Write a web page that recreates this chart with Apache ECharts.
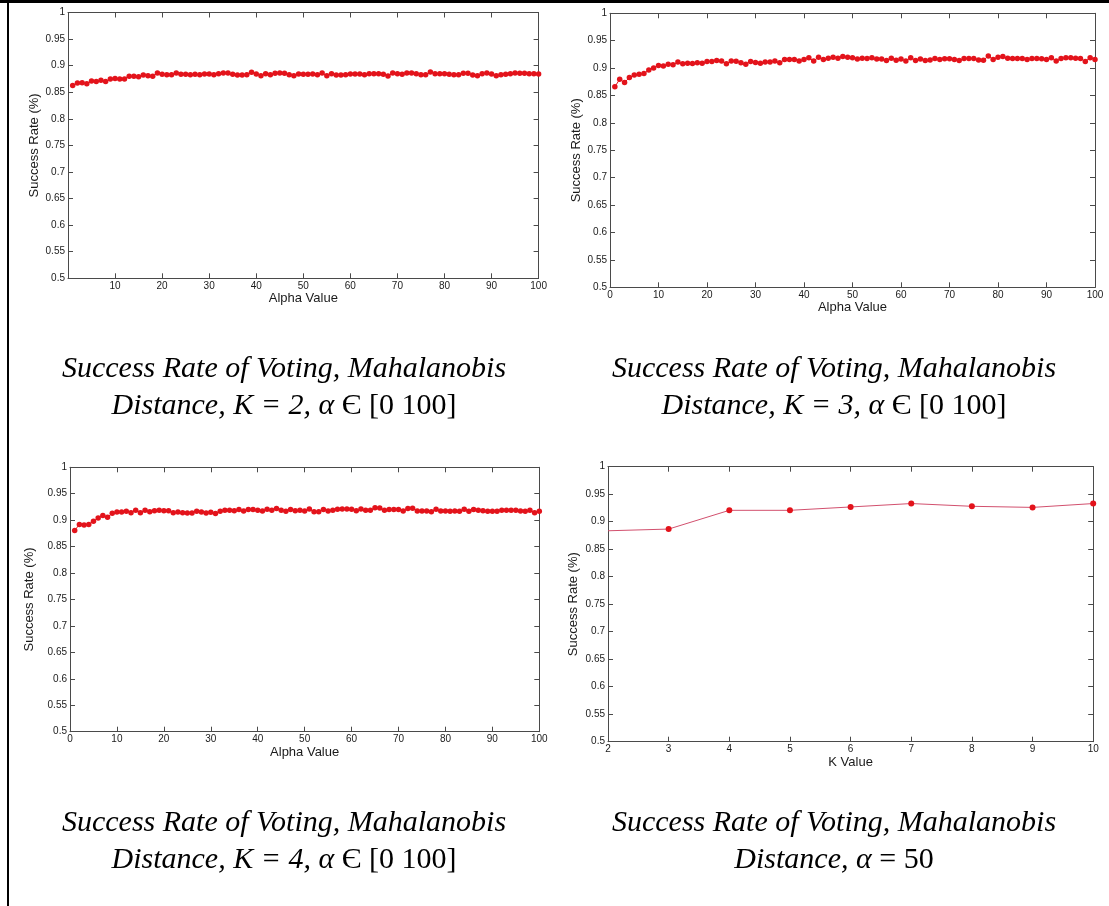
<!DOCTYPE html>
<html>
<head>
<meta charset="utf-8">
<title>Success Rate of Voting, Mahalanobis Distance</title>
<script src="https://cdn.jsdelivr.net/npm/echarts@6/dist/echarts.min.js"></script>
<style>
  html, body { margin: 0; padding: 0; background: #ffffff; }
  #chart { width: 1109px; height: 906px; }
</style>
</head>
<body>
<div id="chart"></div>
<script>
// Alpha values swept in the three alpha experiments
const alphaValues = [
  1, 2, 3, 4, 5, 6, 7, 8, 9, 10, 11, 12, 13, 14, 15, 16, 17, 18, 19, 20,
  21, 22, 23, 24, 25, 26, 27, 28, 29, 30, 31, 32, 33, 34, 35, 36, 37, 38, 39, 40,
  41, 42, 43, 44, 45, 46, 47, 48, 49, 50, 51, 52, 53, 54, 55, 56, 57, 58, 59, 60,
  61, 62, 63, 64, 65, 66, 67, 68, 69, 70, 71, 72, 73, 74, 75, 76, 77, 78, 79, 80,
  81, 82, 83, 84, 85, 86, 87, 88, 89, 90, 91, 92, 93, 94, 95, 96, 97, 98, 99, 100
];

// Success rate for K = 2, one value per alpha
const rateK2 = [
  0.8625, 0.8675, 0.868, 0.866, 0.871, 0.870, 0.8725, 0.870, 0.875, 0.876,
  0.875, 0.875, 0.880, 0.880, 0.879, 0.8825, 0.881, 0.880, 0.886, 0.884,
  0.883, 0.883, 0.886, 0.884, 0.8838, 0.883, 0.8838, 0.883, 0.8844, 0.8844,
  0.883, 0.885, 0.886, 0.886, 0.8838, 0.8825, 0.8825, 0.883, 0.8875, 0.8844,
  0.881, 0.885, 0.883, 0.8856, 0.886, 0.8856, 0.883, 0.881, 0.8844, 0.8838,
  0.8838, 0.8844, 0.883, 0.886, 0.881, 0.885, 0.8825, 0.8825, 0.883, 0.8844,
  0.8844, 0.8844, 0.883, 0.885, 0.885, 0.885, 0.8838, 0.8806, 0.886, 0.885,
  0.8838, 0.886, 0.886, 0.885, 0.883, 0.883, 0.888, 0.885, 0.885, 0.885,
  0.8838, 0.883, 0.883, 0.8856, 0.8856, 0.8825, 0.881, 0.885, 0.886, 0.8844,
  0.881, 0.883, 0.8838, 0.885, 0.886, 0.8856, 0.8856, 0.885, 0.885, 0.8844
];

// Success rate for K = 3, one value per alpha
const rateK3 = [
  0.866, 0.8795, 0.8735, 0.883, 0.8873, 0.889, 0.890, 0.8964, 0.900, 0.9048,
  0.904, 0.907, 0.906, 0.911, 0.908, 0.909, 0.9085, 0.9096, 0.909, 0.912,
  0.912, 0.914, 0.913, 0.908, 0.913, 0.9127, 0.9096, 0.907, 0.912, 0.910,
  0.909, 0.911, 0.911, 0.913, 0.9096, 0.9157, 0.9157, 0.9157, 0.913, 0.9157,
  0.919, 0.913, 0.920, 0.9157, 0.918, 0.920, 0.918, 0.921, 0.920, 0.919,
  0.9165, 0.918, 0.9175, 0.919, 0.9165, 0.9165, 0.914, 0.918, 0.9145, 0.9165,
  0.913, 0.919, 0.914, 0.9165, 0.914, 0.915, 0.9175, 0.9157, 0.917, 0.917,
  0.9157, 0.914, 0.9175, 0.9175, 0.9175, 0.915, 0.9145, 0.9219, 0.9157, 0.920,
  0.921, 0.918, 0.9175, 0.9175, 0.9175, 0.9157, 0.9175, 0.9175, 0.917, 0.9157,
  0.919, 0.913, 0.9175, 0.9187, 0.9187, 0.918, 0.9175, 0.912, 0.919, 0.9157
];

// Success rate for K = 4, one value per alpha
const rateK4 = [
  0.8806, 0.892, 0.891, 0.892, 0.898, 0.904, 0.909, 0.9056, 0.913, 0.9156,
  0.9156, 0.917, 0.914, 0.919, 0.914, 0.919, 0.916, 0.918, 0.919, 0.918,
  0.918, 0.914, 0.9156, 0.914, 0.9137, 0.9137, 0.917, 0.9156, 0.9137, 0.915,
  0.9125, 0.917, 0.9187, 0.9187, 0.918, 0.920, 0.9175, 0.920, 0.920, 0.919,
  0.9175, 0.9206, 0.9187, 0.9219, 0.919, 0.917, 0.920, 0.918, 0.919, 0.9175,
  0.921, 0.916, 0.916, 0.920, 0.9175, 0.919, 0.9206, 0.921, 0.921, 0.9206,
  0.918, 0.921, 0.919, 0.919, 0.9237, 0.923, 0.9187, 0.920, 0.920, 0.920,
  0.9175, 0.9219, 0.9225, 0.9175, 0.9175, 0.9175, 0.916, 0.9206, 0.9175, 0.9175,
  0.917, 0.9175, 0.917, 0.9206, 0.917, 0.920, 0.9187, 0.918, 0.917, 0.917,
  0.917, 0.919, 0.919, 0.919, 0.919, 0.9175, 0.917, 0.919, 0.914, 0.917
];

// K sweep at alpha = 50
const kValues = [2, 3, 4, 5, 6, 7, 8, 9, 10];
const rateAlpha50 = [0.8835, 0.8866, 0.9207, 0.9207, 0.9268, 0.933, 0.928, 0.926, 0.933];

// Caption text under each panel
const captionTitle = 'Success Rate of Voting, Mahalanobis';
const captionK2 = ['Distance, K = 2, ', 'α', ' Є [0 100]'];
const captionK3 = ['Distance, K = 3, ', 'α', ' Є [0 100]'];
const captionK4 = ['Distance, K = 4, ', 'α', ' Є [0 100]'];
const captionAlpha = ['Distance, ', 'α', ' = 50'];

const yAxisTitle = 'Success Rate (%)';
const alphaAxisTitle = 'Alpha Value';
const kAxisTitle = 'K Value';

// ---- layout & styling ----
const SANS = '"Liberation Sans", Arial, sans-serif';
const SERIF = '"Liberation Serif", "Times New Roman", serif';
const AXIS_COLOR = '#4a4a4a';
const TEXT_COLOR = '#1a1a1a';
const RED = '#e3131b';

const panels = [
  { grid: { left: 68, top: 12.5, width: 470.6, height: 265.8 }, xMin: 0, xMax: 100, xInt: 10, hideZero: true,
    xName: alphaAxisTitle, yGap: 27, xGap: 12, xs: alphaValues, ys: rateK2, size: 5.5, line: RED },
  { grid: { left: 610, top: 13.3, width: 485, height: 274 }, xMin: 0, xMax: 100, xInt: 10, hideZero: false,
    xName: alphaAxisTitle, yGap: 27, xGap: 14, xs: alphaValues, ys: rateK3, size: 5.5, line: RED },
  { grid: { left: 70, top: 467.3, width: 469.3, height: 264.4 }, xMin: 0, xMax: 100, xInt: 10, hideZero: false,
    xName: alphaAxisTitle, yGap: 34, xGap: 14, xs: alphaValues, ys: rateK4, size: 5.5, line: RED },
  { grid: { left: 608, top: 466.7, width: 485.2, height: 275 }, xMin: 2, xMax: 10, xInt: 1, hideZero: false,
    xName: kAxisTitle, yGap: 28, xGap: 14, xs: kValues, ys: rateAlpha50, size: 6, line: '#d2506e', noFirstSymbol: true }
];

const grids = [], xAxes = [], yAxes = [], series = [];

panels.forEach((p, i) => {
  grids.push(Object.assign({ containLabel: false }, p.grid));

  const baseX = {
    type: 'value', gridIndex: i, min: p.xMin, max: p.xMax, interval: p.xInt,
    axisLine: { show: true, onZero: false, lineStyle: { color: AXIS_COLOR, width: 1 } },
    axisTick: { show: true, inside: true, length: 5, lineStyle: { color: AXIS_COLOR } },
    splitLine: { show: false }
  };
  // bottom axis with labels
  xAxes.push(Object.assign({}, baseX, {
    position: 'bottom',
    name: p.xName, nameLocation: 'middle', nameGap: p.xGap,
    nameTextStyle: { fontFamily: SANS, fontSize: 13, color: TEXT_COLOR },
    axisLabel: {
      show: true, margin: 3, fontFamily: SANS, fontSize: 10, color: TEXT_COLOR,
      showMinLabel: true, showMaxLabel: true,
      formatter: v => (p.hideZero && v === 0) ? '' : String(v)
    }
  }));
  // top mirror axis (ticks only)
  xAxes.push(Object.assign({}, baseX, { position: 'top', axisLabel: { show: false } }));

  const baseY = {
    type: 'value', gridIndex: i, min: 0.5, max: 1, interval: 0.05,
    axisLine: { show: true, onZero: false, lineStyle: { color: AXIS_COLOR, width: 1 } },
    axisTick: { show: true, inside: true, length: 5, lineStyle: { color: AXIS_COLOR } },
    splitLine: { show: false }
  };
  yAxes.push(Object.assign({}, baseY, {
    position: 'left',
    name: yAxisTitle, nameLocation: 'middle', nameGap: p.yGap, nameRotate: 90,
    nameTextStyle: { fontFamily: SANS, fontSize: 13, color: TEXT_COLOR },
    axisLabel: {
      show: true, margin: 3, fontFamily: SANS, fontSize: 10, color: TEXT_COLOR,
      showMinLabel: true, showMaxLabel: true,
      formatter: v => String(Math.round(v * 100) / 100)
    }
  }));
  yAxes.push(Object.assign({}, baseY, { position: 'right', axisLabel: { show: false } }));

  const data = p.xs.map((x, j) => {
    const item = { value: [x, p.ys[j]] };
    if (p.noFirstSymbol && j === 0) item.symbolSize = 0;
    return item;
  });

  series.push({
    type: 'line',
    xAxisIndex: i * 2,
    yAxisIndex: i * 2,
    data: data,
    symbol: 'circle',
    symbolSize: p.size,
    showAllSymbol: true,
    clip: false,
    animation: false,
    lineStyle: { color: p.line, width: 1 },
    itemStyle: { color: RED, borderWidth: 0 }
  });
});

// Two-line captions under each panel
const CAPTION_SIZE = 30;
function caption(cx, y1, parts) {
  return [
    {
      type: 'text', x: cx, y: y1,
      style: {
        text: captionTitle, x: 0, y: 0, align: 'center', verticalAlign: 'middle',
        font: 'italic ' + CAPTION_SIZE + 'px ' + SERIF, fill: '#000000'
      }
    },
    {
      type: 'text', x: cx, y: y1 + 37,
      style: {
        text: '{i|' + parts[0] + '}{g|' + parts[1] + '}{u|' + parts[2] + '}',
        align: 'center', verticalAlign: 'middle',
        rich: {
          i: { fontFamily: SERIF, fontStyle: 'italic', fontSize: CAPTION_SIZE, fill: '#000000' },
          g: { fontFamily: SERIF, fontStyle: 'italic', fontSize: CAPTION_SIZE, fill: '#000000' },
          u: { fontFamily: SERIF, fontStyle: 'normal', fontSize: CAPTION_SIZE, fill: '#000000' }
        }
      }
    }
  ];
}

const graphics = [
  // frame lines of the figure table
  { type: 'rect', shape: { x: 0, y: 0, width: 1109, height: 3 }, style: { fill: '#000000' } },
  { type: 'rect', shape: { x: 7, y: 0, width: 2, height: 906 }, style: { fill: '#000000' } }
]
  .concat(caption(284, 369, captionK2))
  .concat(caption(834, 369, captionK3))
  .concat(caption(284, 823, captionK4))
  .concat(caption(834, 823, captionAlpha));

const chart = echarts.init(document.getElementById('chart'), null, { renderer: 'canvas' });
chart.setOption({
  backgroundColor: '#ffffff',
  animation: false,
  grid: grids,
  xAxis: xAxes,
  yAxis: yAxes,
  series: series,
  graphic: graphics
});
</script>
</body>
</html>
